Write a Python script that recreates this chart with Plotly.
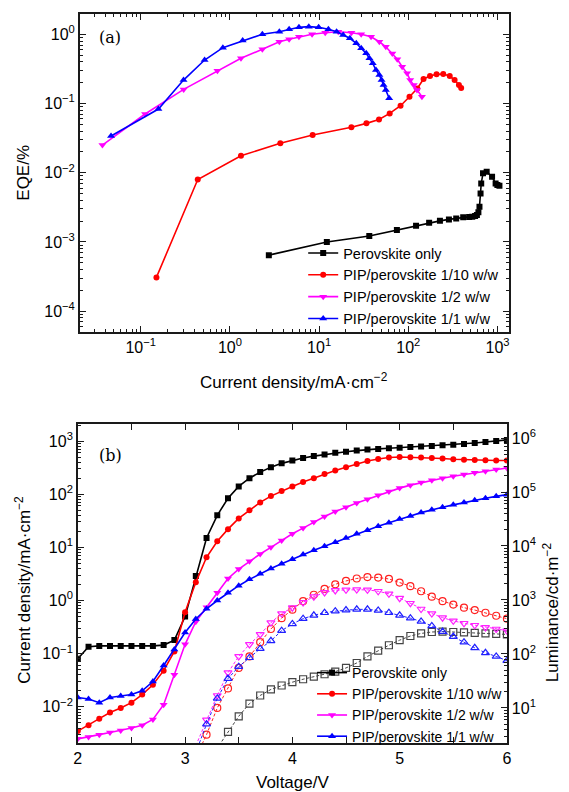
import plotly.graph_objects as go

# ---------------- Panel (a): EQE vs current density ----------------
j_black = [2.73, 12.2, 36.5, 74.4, 122, 171, 226, 285, 344, 412, 480, 521, 560, 587, 610,
           627, 645, 656, 687, 755, 868, 951, 995, 1050]
eqe_black = [6.46e-4, 1.0e-3, 1.22e-3, 1.49e-3, 1.71e-3, 1.89e-3, 2.02e-3, 2.12e-3, 2.19e-3,
             2.27e-3, 2.30e-3, 2.31e-3, 2.38e-3, 2.45e-3, 2.7e-3, 3.22e-3, 5.0e-3, 7.0e-3,
             9.8e-3, 0.0103, 8.75e-3, 7.0e-3, 6.64e-3, 6.5e-3]

j_red = [0.150, 0.436, 1.33, 3.67, 8.46, 23.0, 33.9, 46.9, 61.8, 81.8, 103, 126, 148, 175,
         207, 246, 291, 330, 369, 391]
eqe_red = [3.08e-4, 0.0080, 0.0176, 0.0266, 0.035, 0.0453, 0.0517, 0.059, 0.072, 0.093,
           0.125, 0.165, 0.226, 0.249, 0.264, 0.266, 0.249, 0.218, 0.185, 0.168]

j_pink = [0.0372, 0.112, 0.303, 0.724, 1.33, 2.31, 3.58, 4.61, 5.94, 8.34, 11.7, 16.4, 23.0,
          29.6, 38.2, 47.3, 55.9, 66.2, 75.2, 85.3, 96.9, 105, 115, 125, 142]
eqe_pink = [0.0251, 0.0705, 0.160, 0.298, 0.45, 0.607, 0.78, 0.85, 0.92, 1.0, 1.05, 1.09, 1.05,
            1.0, 0.92, 0.78, 0.66, 0.53, 0.435, 0.34, 0.273, 0.218, 0.185, 0.157, 0.125]

j_blue = [0.0465, 0.158, 0.302, 0.52, 0.834, 1.39, 2.31, 3.58, 4.61, 5.94, 7.66, 9.88, 12.7,
          15.7, 18.6, 22.1, 26.1, 29.6, 33.7, 36.6, 39.9, 43.4, 47.3, 50.1, 52.7, 55.9, 61.0]
eqe_blue = [0.0339, 0.0832, 0.218, 0.425, 0.64, 0.81, 1.0, 1.09, 1.18, 1.26, 1.29, 1.26, 1.18,
            1.09, 0.977, 0.875, 0.741, 0.627, 0.531, 0.450, 0.381, 0.305, 0.258, 0.218, 0.185,
            0.157, 0.119]

# ---------------- Panel (b): J-V and L-V ----------------
v_j = [2.0, 2.1, 2.2, 2.3, 2.4, 2.5, 2.6, 2.7, 2.8, 2.9, 3.0, 3.1, 3.2, 3.3, 3.4, 3.5, 3.6,
       3.7, 3.8, 3.9, 4.0, 4.1, 4.2, 4.3, 4.4, 4.5, 4.6, 4.7, 4.8, 4.9, 5.0, 5.1, 5.2, 5.3,
       5.4, 5.5, 5.6, 5.7, 5.8, 5.9, 6.0]
jv_black = [0.08, 0.135, 0.14, 0.14, 0.14, 0.14, 0.14, 0.14, 0.145, 0.18, 0.5, 2.9, 15, 40,
            84, 140, 200, 260, 320, 380, 430, 480, 520, 560, 600, 630, 660, 690, 710, 730,
            750, 770, 790, 810, 830, 850, 880, 920, 960, 1000, 1050]
jv_red = [0.0035, 0.0045, 0.006, 0.0078, 0.0095, 0.012, 0.017, 0.026, 0.048, 0.11, 0.6, 2.2,
          6.5, 13, 22, 35, 50, 70, 92, 115, 140, 170, 200, 240, 280, 320, 370, 420, 460, 490,
          500, 495, 490, 480, 470, 455, 445, 440, 435, 430, 430]
jv_pink = [0.0025, 0.0027, 0.003, 0.0033, 0.0036, 0.004, 0.0045, 0.0058, 0.011, 0.04, 0.15,
           0.4, 0.75, 1.4, 2.6, 3.9, 5.5, 7.5, 10, 13.5, 18, 23, 30, 38, 47, 57, 68, 80, 95,
           112, 130, 148, 165, 182, 200, 218, 235, 253, 270, 290, 310]
jv_blue = [0.015, 0.014, 0.012, 0.015, 0.016, 0.017, 0.02, 0.03, 0.06, 0.12, 0.25, 0.45, 0.7,
           1.0, 1.4, 1.9, 2.5, 3.2, 4.0, 4.9, 6.0, 7.3, 8.8, 10.5, 12.5, 15, 18, 21, 25, 29, 34,
           39, 45, 51, 57, 63, 70, 77, 84, 91, 98]

v_l = [3.1, 3.2, 3.3, 3.4, 3.5, 3.6, 3.7, 3.8, 3.9, 4.0, 4.1, 4.2, 4.3, 4.4, 4.5, 4.6, 4.7,
       4.8, 4.9, 5.0, 5.1, 5.2, 5.3, 5.4, 5.5, 5.6, 5.7, 5.8, 5.9, 6.0]
lv_black = [0.5, 1.0, 1.8, 3.6, 7, 12, 17, 22, 26, 30, 34, 38, 42, 47, 55, 68, 90, 115, 145,
            180, 215, 240, 255, 260, 255, 250, 245, 240, 235, 230]
lv_red = [1.2, 3.2, 10, 23, 55, 90, 165, 290, 460, 660, 950, 1250, 1600, 1950, 2250, 2500,
          2650, 2600, 2450, 2100, 1800, 1450, 1150, 950, 820, 720, 650, 580, 510, 450]
lv_pink = [2.0, 6, 17, 45, 90, 150, 230, 380, 560, 720, 900, 1150, 1380, 1500, 1540, 1560,
           1540, 1450, 1300, 1080, 870, 680, 560, 470, 410, 370, 340, 310, 290, 270]
lv_blue = [1.5, 5, 15, 35, 58, 85, 125, 175, 270, 360, 450, 520, 580, 620, 650, 670, 670, 640,
           580, 520, 460, 400, 330, 260, 210, 165, 130, 105, 90, 75]

names = ["Perovskite only", "PIP/perovskite 1/10 w/w", "PIP/perovskite 1/2 w/w",
         "PIP/perovskite 1/1 w/w"]
colors = ["#000000", "#ff0000", "#ff00ff", "#0000ff"]
lum_colors = ["#444444", "#ff2020", "#ff20ff", "#2020ff"]
symbols = ["square", "circle", "triangle-down", "triangle-up"]
sizes = [6, 6, 7, 7]

x_dec_a = [0.1, 1, 10, 100, 1000]
x_txt_a = ["10<sup>\u22121</sup>", "10<sup>0</sup>", "10<sup>1</sup>", "10<sup>2</sup>", "10<sup>3</sup>"]
y_dec_a = [1e-4, 1e-3, 1e-2, 1e-1, 1]
y_txt_a = ["10<sup>\u22124</sup>", "10<sup>\u22123</sup>", "10<sup>\u22122</sup>", "10<sup>\u22121</sup>", "10<sup>0</sup>"]
y_dec_j = [1e-2, 1e-1, 1, 10, 100, 1000]
y_txt_j = ["10<sup>\u22122</sup>", "10<sup>\u22121</sup>", "10<sup>0</sup>", "10<sup>1</sup>", "10<sup>2</sup>", "10<sup>3</sup>"]
y_dec_l = [10, 100, 1e3, 1e4, 1e5, 1e6]
y_txt_l = ["10<sup>1</sup>", "10<sup>2</sup>", "10<sup>3</sup>", "10<sup>4</sup>", "10<sup>5</sup>", "10<sup>6</sup>"]


def minor_vals(e0, e1):
    return [m * 10.0 ** e for e in range(e0, e1) for m in range(2, 10)]


W, H = 569, 792
FONT = "Liberation Sans, Arial, sans-serif"

fig = go.Figure()

eqe_sets = [(j_black, eqe_black), (j_red, eqe_red), (j_pink, eqe_pink), (j_blue, eqe_blue)]
for i, (xs, ys) in enumerate(eqe_sets):
    fig.add_trace(go.Scatter(
        x=xs, y=ys, mode="lines+markers", name=names[i],
        line=dict(color=colors[i], width=1.6),
        marker=dict(symbol=symbols[i], size=sizes[i], color=colors[i]),
        xaxis="x", yaxis="y", legend="legend"))

jv_sets = [jv_black, jv_red, jv_pink, jv_blue]
for i, ys in enumerate(jv_sets):
    fig.add_trace(go.Scatter(
        x=v_j, y=ys, mode="lines+markers", name=names[i],
        line=dict(color=colors[i], width=1.6),
        marker=dict(symbol=symbols[i], size=sizes[i], color=colors[i]),
        xaxis="x2", yaxis="y2", legend="legend2"))

lv_sets = [lv_black, lv_red, lv_pink, lv_blue]
for i, ys in enumerate(lv_sets):
    fig.add_trace(go.Scatter(
        x=v_l, y=ys, mode="lines+markers", name=names[i], showlegend=False,
        line=dict(color=lum_colors[i], width=1, dash="3px,2px"),
        marker=dict(symbol=symbols[i] + "-open", size=7, color=lum_colors[i],
                    line=dict(width=1.2)),
        xaxis="x2", yaxis="y3"))

axis_common = dict(showline=True, linecolor="#1a1a1a", linewidth=1.5, ticks="inside",
                   ticklen=6, tickwidth=1.2, tickcolor="#1a1a1a", showgrid=False,
                   zeroline=False, tickfont=dict(family=FONT, size=16, color="black"))
minor_common = dict(ticks="inside", ticklen=3, tickwidth=1, tickcolor="#1a1a1a", showgrid=False)

fig.update_layout(
    width=W, height=H, margin=dict(l=0, r=0, t=0, b=0),
    paper_bgcolor="white", plot_bgcolor="white",
    font=dict(family=FONT, size=14, color="black"),
    xaxis=dict(axis_common, type="log", range=[-1.683, 3.127], domain=[77 / W, 513 / W],
               anchor="y", mirror="allticks", tickmode="array", tickvals=x_dec_a,
               ticktext=x_txt_a,
               minor=dict(minor_common, tickmode="array", tickvals=minor_vals(-2, 4))),
    yaxis=dict(axis_common, type="log", range=[-4.30, 0.293],
               domain=[1 - 332 / H, 1 - 14 / H], anchor="x", mirror="allticks",
               tickmode="array", tickvals=y_dec_a, ticktext=y_txt_a,
               minor=dict(minor_common, tickmode="array", tickvals=minor_vals(-5, 1))),
    xaxis2=dict(axis_common, range=[2, 6], domain=[75 / W, 511 / W], anchor="y2",
                mirror="allticks", dtick=1, tick0=2,
                minor=dict(minor_common, dtick=0.5)),
    yaxis2=dict(axis_common, type="log", range=[-2.68, 3.32],
                domain=[1 - 743 / H, 1 - 424 / H], anchor="x2", mirror=False,
                tickmode="array", tickvals=y_dec_j, ticktext=y_txt_j,
                minor=dict(minor_common, tickmode="array", tickvals=minor_vals(-3, 4))),
    yaxis3=dict(axis_common, type="log", range=[0.35, 6.26], overlaying="y2",
                side="right", anchor="x2", tickmode="array", tickvals=y_dec_l,
                ticktext=y_txt_l,
                minor=dict(minor_common, tickmode="array", tickvals=minor_vals(0, 7))),
    legend=dict(x=304 / W, y=1 - 237 / H, xanchor="left", yanchor="top",
                bgcolor="rgba(0,0,0,0)", font=dict(family=FONT, size=14.5, color="black"),
                tracegroupgap=0),
    legend2=dict(x=313 / W, y=1 - 657 / H, xanchor="left", yanchor="top",
                 bgcolor="rgba(0,0,0,0)", font=dict(family=FONT, size=14, color="black"),
                 tracegroupgap=0),
    showlegend=True,
)

ann = dict(xref="paper", yref="paper", showarrow=False, xanchor="center", yanchor="middle")
title_font = dict(family=FONT, size=17, color="black")
fig.add_annotation(ann, x=108 / W, y=1 - 37 / H, text="(a)",
                   font=dict(family="DejaVu Serif, Liberation Serif, serif", size=16, color="black"))
fig.add_annotation(ann, x=108 / W, y=1 - 455 / H, text="(b)",
                   font=dict(family="DejaVu Serif, Liberation Serif, serif", size=16, color="black"))
fig.add_annotation(ann, x=19 / W, y=1 - 173 / H, text="EQE/%", textangle=-90, font=title_font)
fig.add_annotation(ann, x=295 / W, y=1 - 381 / H,
                   text="Current density/mA\u00b7cm<sup>\u22122</sup>", font=title_font)
fig.add_annotation(ann, x=19 / W, y=1 - 590 / H,
                   text="Current density/mA\u00b7cm<sup>\u22122</sup>", textangle=-90, font=title_font)
fig.add_annotation(ann, x=556 / W, y=1 - 612 / H,
                   text="Luminance/cd\u00b7m<sup>\u22122</sup>", textangle=-90, font=title_font)
fig.add_annotation(ann, x=293 / W, y=1 - 782 / H, text="Voltage/V", font=title_font)

fig.write_html("out.html")
